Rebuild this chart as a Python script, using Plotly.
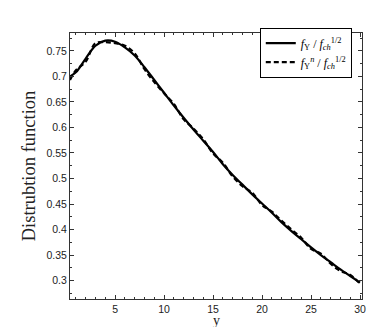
import plotly.graph_objects as go

# Data
y_vals = [0.4, 1, 2, 3, 4, 5, 6, 7, 8, 9, 10, 11, 12, 13, 14, 15, 16, 17, 18, 19, 20,
          21, 22, 23, 24, 25, 26, 27, 28, 29, 30]
f_full = [0.700, 0.708, 0.735, 0.760, 0.770, 0.768, 0.757, 0.741, 0.718, 0.693, 0.668,
          0.643, 0.619, 0.596, 0.574, 0.552, 0.528, 0.507, 0.488, 0.469, 0.451,
          0.433, 0.414, 0.397, 0.381, 0.365, 0.350, 0.336, 0.322, 0.309, 0.296]
f_n = [0.693, 0.712, 0.729, 0.765, 0.767, 0.765, 0.760, 0.745, 0.714, 0.689, 0.667,
       0.646, 0.616, 0.598, 0.577, 0.549, 0.531, 0.504, 0.485, 0.472, 0.448,
       0.435, 0.417, 0.400, 0.384, 0.362, 0.353, 0.333, 0.319, 0.311, 0.294]

name_full = "<i>f</i><sub>Υ</sub> / <i>f</i><sub><i>ch</i></sub><sup>1/2</sup>"
name_n = "<i>f</i><sub>Υ</sub><sup><i>n</i></sup> / <i>f</i><sub><i>ch</i></sub><sup>1/2</sup>"

ytick_vals = [0.3, 0.35, 0.4, 0.45, 0.5, 0.55, 0.6, 0.65, 0.7, 0.75]
ytick_text = ["0.3", "0.35", "0.4", "0.45", "0.5", "0.55", "0.6", "0.65", "0.7", "0.75"]
xtick_vals = [5, 10, 15, 20, 25, 30]
x_title = "y"
y_title = "Distrubtion function"

serif = "Liberation Serif, DejaVu Serif, serif"

fig = go.Figure()
fig.add_trace(go.Scatter(x=y_vals, y=f_full, mode="lines", name=name_full,
                         line=dict(color="black", width=2.2, shape="spline")))
fig.add_trace(go.Scatter(x=y_vals, y=f_n, mode="lines", name=name_n,
                         line=dict(color="black", width=2.2, dash="5px,3px", shape="spline")))

axis_common = dict(
    showline=True, linecolor="#333333", linewidth=1, mirror="ticks",
    ticks="inside", ticklen=4, tickcolor="#333333", tickwidth=1,
    showgrid=False, zeroline=False,
    tickfont=dict(family="Liberation Sans, Arial", size=10.5, color="#222222"),
)

fig.update_xaxes(range=[0.4, 30.2], tickvals=xtick_vals,
                 minor=dict(ticks="inside", ticklen=2, tickcolor="#333333", dtick=1, tick0=0),
                 **axis_common)
fig.update_yaxes(range=[0.264, 0.785], tickvals=ytick_vals, ticktext=ytick_text,
                 minor=dict(ticks="inside", ticklen=2, tickcolor="#333333", dtick=0.025, tick0=0.25),
                 title=dict(text=y_title,
                            font=dict(family=serif, size=18.5, color="#222222"),
                            standoff=5),
                 **axis_common)

fig.add_annotation(text=x_title, xref="paper", yref="paper", x=0.5, y=-0.081,
                   xanchor="center", yanchor="middle", showarrow=False,
                   font=dict(family=serif, size=14, color="#222222"))

fig.update_layout(
    width=379, height=327,
    margin=dict(l=62, r=25, t=25, b=36),
    paper_bgcolor="white", plot_bgcolor="white",
    showlegend=True,
    legend=dict(x=0.965, y=1.02, xanchor="right", yanchor="top",
                bgcolor="white", bordercolor="black", borderwidth=1,
                font=dict(family=serif, size=12, color="black"),
                tracegroupgap=0, itemwidth=30),
)

fig.write_html("out.html")
